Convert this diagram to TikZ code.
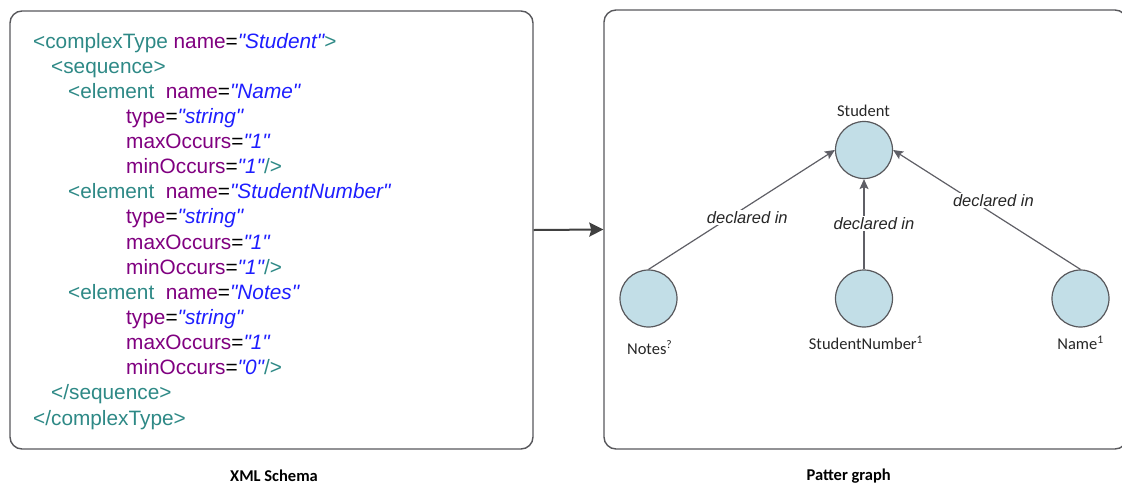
\documentclass[tikz,border=0pt]{standalone}
\usepackage{fontspec}
\setmainfont{Liberation Sans}[Ligatures=TeXOff]
\newfontfamily\calibrifont{Carlito}
\usetikzlibrary{arrows.meta}

\definecolor{tagc}{RGB}{46,137,134}
\definecolor{attc}{RGB}{128,0,128}
\definecolor{valc}{RGB}{30,30,255}
\definecolor{framec}{RGB}{88,88,92}
\definecolor{edgec}{RGB}{95,95,102}
\definecolor{nodefill}{RGB}{194,222,231}

% XML syntax colouring (straight quotes round attribute values)
\newcommand\xtag[1]{\textcolor{tagc}{#1}}
\newcommand\xatt[1]{\textcolor{attc}{#1}}
\newcommand\xval[1]{\textcolor{valc}{\itshape"#1"}}

\tikzset{
  panel/.style={draw=framec, line width=1.4pt, rounded corners=12pt,
    inner sep=0pt, minimum width=523pt},
  code/.style={anchor=base west, inner sep=0pt,
    font=\fontsize{20.8}{25}\selectfont},
  vertex/.style={circle, draw=framec, line width=1.2pt, fill=nodefill,
    minimum size=57pt, inner sep=0pt},
  vlabel/.style={anchor=base, inner sep=0pt,
    font=\calibrifont\fontsize{16.5}{20}\selectfont, text=black!85},
  edge/.style={draw=edgec, line width=1.2pt,
    -{Stealth[length=10pt, width=9pt, inset=2pt]}},
  elabel/.style={fill=white, inner sep=1.5pt,
    font=\fontsize{16.5}{20}\selectfont\itshape, text=black!85},
  caption/.style={anchor=base, inner sep=0pt,
    font=\calibrifont\bfseries\fontsize{16.5}{20}\selectfont},
  flow/.style={draw=black!75, line width=2pt,
    -{Stealth[length=14pt, width=14pt, inset=2pt]}},
}

\begin{document}
\begin{tikzpicture}[x=1pt, y=-1pt]
\useasboundingbox (0,0) rectangle (1122,483);

% the two panels
\node[panel, minimum height=438pt] (schema) at (271.5,230) {};
\node[panel, minimum height=439pt] (graph) at (865.5,229.5) {};
\draw[flow] (schema.east) -- (graph.west);

% XML schema listing
\node[code] (c1)  at (33,48.0)  {\xtag{<complexType} \xatt{name}=\xval{Student}\xtag{>}};
\node[code] (c2)  at (51,73.1)  {\xtag{<sequence>}};
\node[code] (c3)  at (68,98.3)  {\xtag{<element}\ \ \xatt{name}=\xval{Name}};
\node[code] (c4)  at (126,123.4) {\xatt{type}=\xval{string}};
\node[code] (c5)  at (126,148.5) {\xatt{maxOccurs}=\xval{1}};
\node[code] (c6)  at (126,173.7) {\xatt{minOccurs}=\xval{1}\xtag{/>}};
\node[code] (c7)  at (68,198.8) {\xtag{<element}\ \ \xatt{name}=\xval{StudentNumber}};
\node[code] (c8)  at (126,223.9) {\xatt{type}=\xval{string}};
\node[code] (c9)  at (126,249.0) {\xatt{maxOccurs}=\xval{1}};
\node[code] (c10) at (126,274.2) {\xatt{minOccurs}=\xval{1}\xtag{/>}};
\node[code] (c11) at (68,299.3) {\xtag{<element}\ \ \xatt{name}=\xval{Notes}};
\node[code] (c12) at (126,324.4) {\xatt{type}=\xval{string}};
\node[code] (c13) at (126,349.6) {\xatt{maxOccurs}=\xval{1}};
\node[code] (c14) at (126,374.7) {\xatt{minOccurs}=\xval{0}\xtag{/>}};
\node[code] (c15) at (51,399.8) {\xtag{</sequence>}};
\node[code] (c16) at (33,425.0) {\xtag{</complexType>}};

% pattern graph
\node[vertex] (student) at (864,150) {};
\node[vertex] (notes)   at (648.5,298.5) {};
\node[vertex] (snumber) at (864,298.5) {};
\node[vertex] (name)    at (1080.5,298.5) {};

\node[vlabel] (studentlbl) at (863.5,116.7) {Student};
\node[vlabel] (noteslbl)   at (649.7,354.3) {Notes\textsuperscript{?}};
\node[vlabel] (snumberlbl) at (866,349.3) {StudentNumber\textsuperscript{1}};
\node[vlabel] (namelbl)    at (1080.5,349.3) {Name\textsuperscript{1}};

\draw[edge] (notes.north) -- node[elabel, pos=0.53, yshift=-11.5pt] {declared in} (student.west);
\draw[edge] (snumber.north) -- node[elabel, pos=0.51, xshift=10pt] {declared in} (student.south);
\draw[edge] (name.north) -- node[elabel, pos=0.465, yshift=13pt] {declared in} (student.east);

% captions
\node[caption] (cap1) at (274,481) {XML Schema};
\node[caption] (cap2) at (848.7,480) {Patter graph};
\end{tikzpicture}
\end{document}
